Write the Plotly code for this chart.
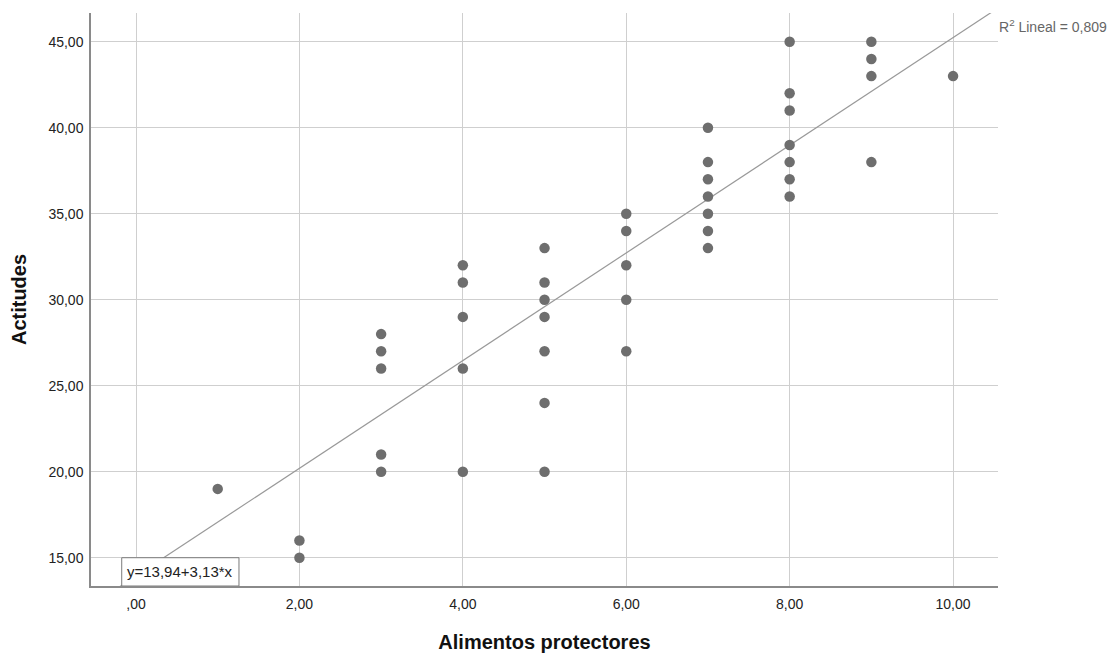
import plotly.graph_objects as go

# Data
x_vals = [1,
          2, 2,
          3, 3, 3, 3, 3,
          4, 4, 4, 4, 4,
          5, 5, 5, 5, 5, 5, 5,
          6, 6, 6, 6, 6,
          7, 7, 7, 7, 7, 7, 7,
          8, 8, 8, 8, 8, 8, 8,
          9, 9, 9, 9,
          10]
y_vals = [19,
          16, 15,
          28, 27, 26, 21, 20,
          32, 31, 29, 26, 20,
          33, 31, 30, 29, 27, 24, 20,
          35, 34, 32, 30, 27,
          40, 38, 37, 36, 35, 34, 33,
          45, 42, 41, 39, 38, 37, 36,
          45, 44, 43, 38,
          43]

intercept = 13.94
slope = 3.13
r2_text = "R<sup>2</sup> Lineal = 0,809"
eq_text = "y=13,94+3,13*x"

x_ticks = [0, 2, 4, 6, 8, 10]
x_ticktext = [",00", "2,00", "4,00", "6,00", "8,00", "10,00"]
y_ticks = [15, 20, 25, 30, 35, 40, 45]
y_ticktext = ["15,00", "20,00", "25,00", "30,00", "35,00", "40,00", "45,00"]

x_range = [-0.551, 10.55]
y_range = [13.355, 46.67]

line_x = [x_range[0] - 0.1, x_range[1] + 0.1]
line_y = [intercept + slope * v for v in line_x]

font_family = "Liberation Sans, Arial, sans-serif"

fig = go.Figure()
fig.add_trace(go.Scatter(
    x=line_x, y=line_y, mode="lines",
    line=dict(color="#999999", width=1.2),
    hoverinfo="skip", showlegend=False,
))
fig.add_trace(go.Scatter(
    x=x_vals, y=y_vals, mode="markers",
    marker=dict(color="#6e6e6e", size=10.5, line=dict(width=0)),
    showlegend=False, cliponaxis=False,
))

fig.add_shape(type="rect", xref="x", yref="y",
              x0=-0.175, x1=1.26, y0=y_range[0], y1=15.0,
              line=dict(color="#7a7a7a", width=1), fillcolor="white", layer="above")
fig.add_annotation(x=(-0.175 + 1.26) / 2, y=(y_range[0] + 15.0) / 2, xref="x", yref="y",
                   text=eq_text, showarrow=False,
                   font=dict(family=font_family, size=15, color="#222222"))
fig.add_annotation(x=0.999, y=45.9, xref="paper", yref="y", xanchor="left",
                   text=r2_text, showarrow=False,
                   font=dict(family=font_family, size=14, color="#666666"))

fig.update_layout(
    width=1118, height=655,
    margin=dict(l=91, r=120, t=13, b=69),
    paper_bgcolor="white", plot_bgcolor="white",
    font=dict(family=font_family, size=14, color="#222222"),
    showlegend=False,
)
fig.update_xaxes(
    range=x_range, tickvals=x_ticks, ticktext=x_ticktext, automargin=False,
    showgrid=True, gridcolor="#cfcfcf", gridwidth=1,
    showline=True, linecolor="#8a8a8a", linewidth=1.5,
    zeroline=False, ticks="outside", ticklen=4, tickcolor="rgba(0,0,0,0)",
    tickfont=dict(size=14, color="#222222"),
    title=dict(text="<b>Alimentos protectores</b>", font=dict(size=20, color="#111111"), standoff=24),
)
fig.update_yaxes(
    range=y_range, tickvals=y_ticks, ticktext=y_ticktext, automargin=False,
    showgrid=True, gridcolor="#cfcfcf", gridwidth=1,
    showline=True, linecolor="#8a8a8a", linewidth=1.5,
    zeroline=False, ticks="outside", ticklen=3, tickcolor="rgba(0,0,0,0)",
    tickfont=dict(size=14, color="#222222"),
    title=dict(text="<b>Actitudes</b>", font=dict(size=20, color="#111111"), standoff=16),
)

fig.write_html("out.html")
